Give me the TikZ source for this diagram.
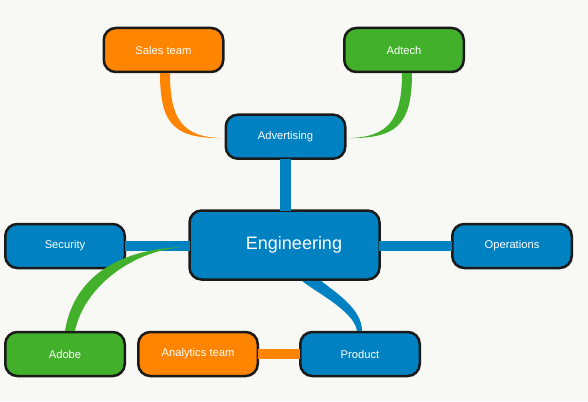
\documentclass[tikz,border=0pt]{standalone}
\usepackage{fontspec}
\setmainfont{Liberation Sans}
\usepackage{xcolor}
\usetikzlibrary{calc}
\definecolor{MapBlue}{RGB}{0, 130, 194}
\definecolor{MapOrange}{RGB}{255, 132, 0}
\definecolor{MapGreen}{RGB}{66, 176, 42}
\definecolor{Outline}{RGB}{26, 26, 26}
\definecolor{Paper}{RGB}{248, 248, 244}
\pgfdeclarelayer{background}
\pgfsetlayers{background,main}
\tikzset{
  box/.style={draw=Outline, line width=2.5pt, rounded corners=12pt, minimum width=119.5pt,
    minimum height=44pt, inner sep=0pt, text=white, font=\fontsize{11.2}{13}\selectfont},
  bar/.style={line width=10.5pt, shorten <=-1.3pt, shorten >=-1.3pt}
}

\begin{document}
\begin{tikzpicture}[x=1pt,y=-1pt]
            %Mapa Engineering
            \useasboundingbox (0,0) rectangle (588,401);
            \node[box, fill=MapOrange] (A) at (163.5,50) {Sales team};
            \node[box, fill=MapGreen] (B) at (404,50) {Adtech};
            \node[box, fill=MapBlue] (C) at (285.5,136.7) {Advertising};
            \node[box, fill=MapBlue, minimum width=190pt, minimum height=69pt,
              font=\fontsize{18}{21}\selectfont] (D) at (284.5,245) {\hspace*{19pt}Engineering};
            \node[box, fill=MapBlue] (E) at (65,246) {Security};
            \node[box, fill=MapBlue] (F) at (512,246) {Operations};
            \node[box, fill=MapGreen] (G) at (65,354) {Adobe};
            \node[box, fill=MapOrange] (H) at (198,354) {Analytics team};
            \node[box, fill=MapBlue] (I) at (360,354) {Product};
            \begin{pgfonlayer}{background}
            \fill[Paper] (0,0) rectangle (588,401);
            \end{pgfonlayer}
            \draw[bar, MapBlue] (C.south) -- (C.south |- D.north);
            \draw[bar, MapBlue] (E.east) -- (E.east -| D.west);
            \draw[bar, MapBlue] (F.west) -- (F.west -| D.east);
            \draw[bar, MapOrange] (H.east) -- (I.west);
            %Ramas
            \fill[MapOrange] ($(A.south)+(-3.5,0)$) .. controls +(0,54) and +(-47,0) .. ($(C.west)+(-1,1.5)$)
              .. controls +(-40,-1) and +(0,48) .. ($(A.south)+(6.5,0)$) -- cycle;
            \fill[MapGreen] ($(B.south)+(8,0)$) .. controls +(0,54) and +(47,0) .. ($(C.east)+(1,1.5)$)
              .. controls +(40,-1) and +(0,48) .. ($(B.south)+(-2,0)$) -- cycle;
            \fill[MapGreen] (G.north) .. controls +(8,-48) and +(-71,3) .. ($(D.west)+(-6.5,2)$)
              .. controls +(-53,5) and +(9,-42) .. ($(G.north)+(10,0)$) -- cycle;
            \fill[MapBlue] ($(D.south)+(17.5,0)$) .. controls +(12,10.5) and +(-3,-20) .. ($(I.north)+(-3,0)$)
              -- ($(I.north)+(2,0)$) .. controls +(0,-22) and +(14,11.5) .. ($(D.south)+(36.5,0)$) -- cycle;
        \end{tikzpicture}
\end{document}
